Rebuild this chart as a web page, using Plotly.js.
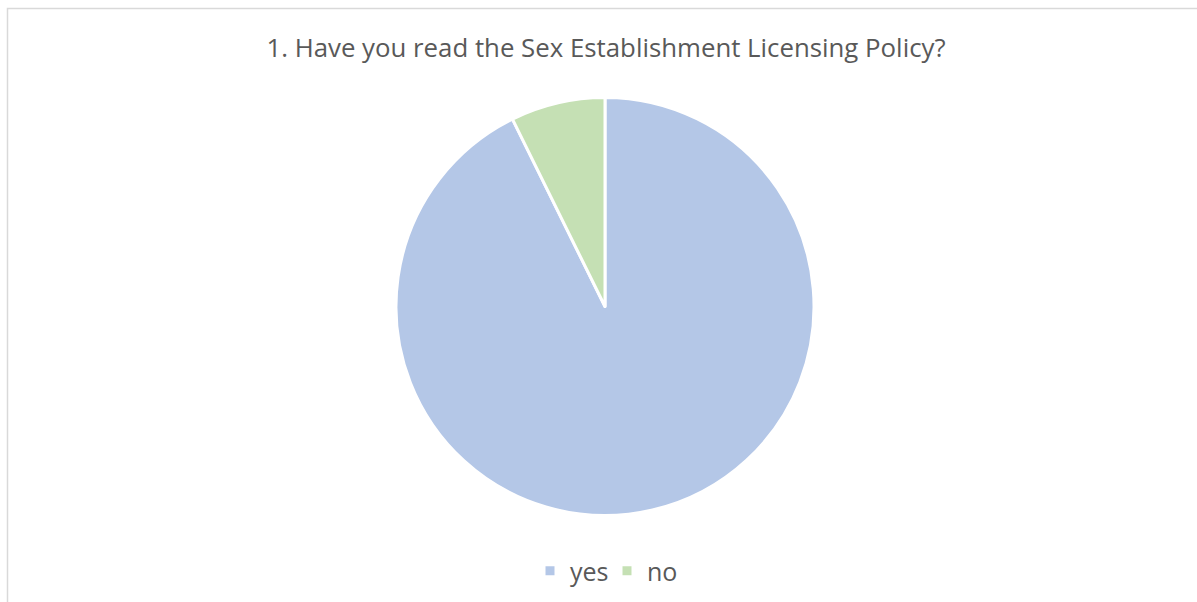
<!DOCTYPE html>
<html>
<head>
<meta charset="utf-8">
<script src="https://cdn.plot.ly/plotly-3.0.1.min.js"></script>
<style>html,body{margin:0;padding:0;background:#fff;}#chart{width:1197px;height:602px;}</style>
</head>
<body>
<div id="chart"></div>
<script>
const categories = ["yes", "no"];
const values = [92.7, 7.3];
const colors = ["#B4C7E7", "#C5E0B4"];
const titleText = "1. Have you read the Sex Establishment Licensing Policy?";

const W = 1197, H = 602;
const cx = 605, cy = 306.5, r = 209;

const data = [{
  type: "pie",
  labels: categories,
  values: values,
  sort: false,
  direction: "clockwise",
  rotation: 0,
  marker: {colors: colors, line: {color: "#FFFFFF", width: 3}},
  textinfo: "none",
  hoverinfo: "label+percent",
  domain: {x: [(cx - r) / W, (cx + r) / W], y: [(H - cy - r) / H, (H - cy + r) / H]}
}];

const layout = {
  width: W, height: H,
  margin: {l: 0, r: 0, t: 0, b: 0, autoexpand: false},
  paper_bgcolor: "#FFFFFF",
  font: {family: "'Open Sans', sans-serif", color: "#595959"},
  title: {
    text: titleText,
    font: {size: 25.8, color: "#595959", family: "'Open Sans', sans-serif"},
    x: 606 / W, xanchor: "center", xref: "paper",
    y: 1 - 48 / H, yanchor: "middle", yref: "container"
  },
  showlegend: true,
  legend: {
    orientation: "h",
    x: 607 / W, xanchor: "center",
    y: 1 - 571 / H, yanchor: "middle",
    font: {size: 25, color: "#595959"},
    itemwidth: 30,
    entrywidth: 32, entrywidthmode: "pixels",
    traceorder: "normal"
  },
  shapes: [{
    type: "rect", xref: "paper", yref: "paper",
    x0: 7.5 / W, x1: 1.2, y0: -0.2, y1: 1 - 8.5 / H,
    line: {color: "#D9D9D9", width: 1.5}, fillcolor: "rgba(0,0,0,0)"
  }]
};

Plotly.newPlot("chart", data, layout, {displayModeBar: false});
</script>
</body>
</html>
